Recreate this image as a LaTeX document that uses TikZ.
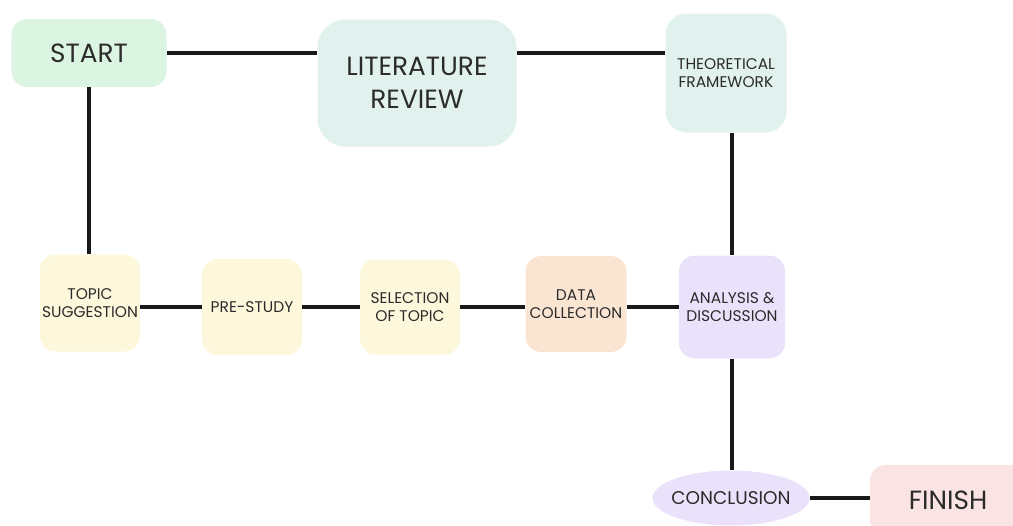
\documentclass[tikz,border=0pt]{standalone}
\usepackage{fontspec}
\setmainfont{Poppins}
\usetikzlibrary{shapes.geometric}
\definecolor{mintgreen}{HTML}{DCF5E3}
\definecolor{paleteal}{HTML}{E0F1EE}
\definecolor{paleyellow}{HTML}{FDF7DC}
\definecolor{palepeach}{HTML}{FAE5D3}
\definecolor{palelilac}{HTML}{EAE2FB}
\definecolor{palepink}{HTML}{FAE3E3}
\definecolor{inkgrey}{HTML}{2B2B2B}
\begin{document}
\begin{tikzpicture}[
	blob/.style={rectangle, rounded corners=9pt, inner sep=0pt, align=center,
		text=inkgrey, font=\fontsize{8.8}{10.5}\selectfont},
	bigblob/.style={blob, font=\fontsize{15}{19}\selectfont},
	link/.style={line width=2pt, draw=black!90}
	]
	\useasboundingbox (0,0) rectangle (20.26,-10.5);
	\node (start) at (1.78,-1.06) [bigblob, fill=mintgreen, minimum width=3.1cm, minimum height=1.36cm] {START};
	\node (lit) at (8.34,-1.66) [bigblob, fill=paleteal, rounded corners=16pt, minimum width=3.98cm, minimum height=2.54cm] {LITERATURE\\REVIEW};
	\node (theo) at (14.52,-1.46) [blob, fill=paleteal, rounded corners=12pt, minimum width=2.42cm, minimum height=2.38cm] {THEORETICAL\\FRAMEWORK};
	\node (topic) at (1.80,-6.06) [blob, fill=paleyellow, minimum width=2cm, minimum height=1.94cm] {TOPIC\\SUGGESTION};
	\node (pre) at (5.04,-6.14) [blob, fill=paleyellow, minimum width=2cm, minimum height=1.92cm] {PRE-STUDY};
	\node (sel) at (8.20,-6.14) [blob, fill=paleyellow, minimum width=2cm, minimum height=1.9cm] {SELECTION\\OF TOPIC};
	\node (data) at (11.52,-6.08) [blob, fill=palepeach, minimum width=2.02cm, minimum height=1.92cm] {DATA\\COLLECTION};
	\node (ana) at (14.64,-6.14) [blob, fill=palelilac, minimum width=2.12cm, minimum height=2.06cm] {ANALYSIS \&\\DISCUSSION};
	\node (concl) at (14.62,-9.96) [ellipse, fill=palelilac, inner ysep=0pt, inner xsep=-9pt, text=inkgrey, font=\fontsize{10.5}{12}\selectfont, minimum width=3.14cm, minimum height=1.1cm] {CONCLUSION};
	\node (finish) at (18.96,-10.0) [bigblob, fill=palepink, minimum width=3.12cm, minimum height=1.4cm] {FINISH};
	\draw[link]
	(start.east) -- (start.east -| lit.west)
	(start.east -| lit.east) -- (start.east -| theo.west)
	(start.south) -- (start.south |- topic.north)
	(topic.east |- pre.west) -- (pre.west)
	(pre.east) -- (sel.west)
	(sel.east) -- (sel.east -| data.west)
	(data.east |- sel.east) -- (sel.east -| ana.west)
	(ana.north |- theo.south) -- (ana.north)
	(ana.south) -- (ana.south |- concl.north)
	(concl.east) -- (finish.west |- concl.east)
	;
\end{tikzpicture}
\end{document}
